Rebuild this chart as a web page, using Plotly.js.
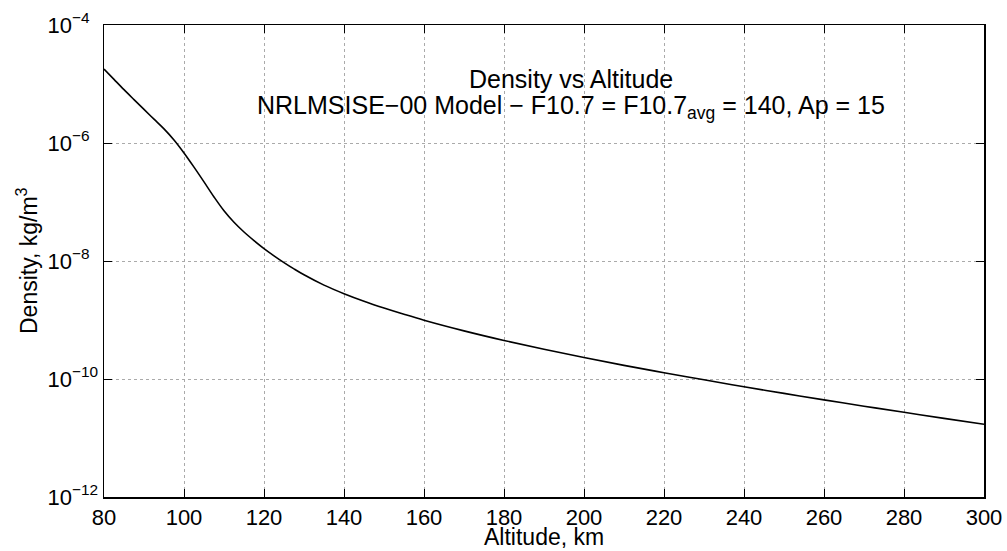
<!DOCTYPE html>
<html>
<head>
<meta charset="utf-8">
<script src="https://cdn.plot.ly/plotly-3.0.1.min.js"></script>
<style>
  html, body { margin: 0; padding: 0; background: #fff; }
  #chart { width: 1007px; height: 551px; }
</style>
</head>
<body>
<div id="chart"></div>
<script>
// Altitude (km)
const altitude = [80, 82.5, 85, 87.5, 90, 92.5, 95, 97.5, 100, 102.5, 105, 107.5, 110, 112.5,
  115, 117.5, 120, 122.5, 125, 127.5, 130, 135, 140, 145, 150, 155, 160, 170, 180, 190,
  200, 210, 220, 230, 240, 250, 260, 270, 280, 290, 300];
// Density (kg/m^3)
const density = [1.795e-5, 1.199e-5, 8.02e-6, 5.445e-6, 3.707e-6, 2.535e-6, 1.734e-6,
  1.125e-6, 6.78e-7, 3.90e-7, 2.193e-7, 1.219e-7, 7.10e-8, 4.53e-8,
  3.097e-8, 2.218e-8, 1.626e-8, 1.226e-8, 9.408e-9, 7.345e-9, 5.834e-9, 3.899e-9, 2.793e-9,
  2.082e-9, 1.598e-9, 1.250e-9, 9.91e-10, 6.546e-10, 4.498e-10, 3.184e-10,
  2.307e-10, 1.702e-10, 1.276e-10, 9.683e-11, 7.396e-11, 5.702e-11, 4.426e-11, 3.459e-11,
  2.723e-11, 2.153e-11, 1.710e-11];

const xTicks = [80, 100, 120, 140, 160, 180, 200, 220, 240, 260, 280, 300];
const yTickVals = [1e-12, 1e-10, 1e-8, 1e-6, 1e-4];
const FIG = '\u2007';
const yTickText = ['10<sup>−12</sup>', '10<sup>−10</sup>', '10<sup>−8' + FIG + '</sup>',
  '10<sup>−6' + FIG + '</sup>', '10<sup>−4' + FIG + '</sup>'];

const titleLine1 = 'Density vs Altitude';
const titleLine2 = 'NRLMSISE−00 Model − F10.7 = F10.7<sub>avg</sub> = 140, Ap = 15';
const xTitle = 'Altitude, km';
const yTitle = 'Density, kg/m<sup>3</sup>';

const FONT = 'Liberation Sans, Arial, Helvetica, sans-serif';
const TICK_SIZE = 22;
const LABEL_SIZE = 23;
const TITLE_SIZE = 25;

const trace = {
  x: altitude,
  y: density,
  type: 'scatter',
  mode: 'lines',
  line: { color: '#000', width: 1.6, shape: 'spline', smoothing: 1 },
  hoverinfo: 'x+y'
};

const axisCommon = {
  showline: true,
  linecolor: '#000',
  linewidth: 1.5,
  mirror: 'ticks',
  ticks: 'inside',
  ticklen: 8,
  tickwidth: 1,
  tickcolor: '#000',
  showgrid: true,
  gridcolor: '#aaa',
  griddash: 'dot',
  gridwidth: 1,
  zeroline: false,
  tickfont: { family: FONT, size: TICK_SIZE, color: '#000' }
};

const layout = {
  width: 1007,
  height: 551,
  margin: { l: 104, r: 23, t: 25, b: 54 },
  paper_bgcolor: '#fff',
  plot_bgcolor: '#fff',
  showlegend: false,
  font: { family: FONT, size: LABEL_SIZE, color: '#000' },
  xaxis: Object.assign({}, axisCommon, {
    range: [80, 300],
    tickvals: xTicks,
    ticktext: xTicks.map(String),
    ticklabelstandoff: 0
  }),
  yaxis: Object.assign({}, axisCommon, {
    type: 'log',
    range: [-12, -4],
    tickvals: yTickVals,
    ticktext: yTickText,
    ticklabelstandoff: 0
  }),
  annotations: [
    {
      text: titleLine1, xref: 'paper', yref: 'paper', x: 0.5307, y: 0.886,
      xanchor: 'center', yanchor: 'middle', showarrow: false,
      font: { family: FONT, size: TITLE_SIZE, color: '#000' }
    },
    {
      text: titleLine2, xref: 'paper', yref: 'paper', x: 0.5307, y: 0.827,
      xanchor: 'center', yanchor: 'middle', showarrow: false,
      font: { family: FONT, size: TITLE_SIZE, color: '#000' }
    },
    {
      text: xTitle, xref: 'paper', yref: 'paper', x: 0.5, y: -0.1142,
      xanchor: 'center', yanchor: 'bottom', showarrow: false, borderpad: 0,
      font: { family: FONT, size: LABEL_SIZE, color: '#000' }
    },
    {
      text: yTitle, xref: 'paper', yref: 'paper', x: -0.0875, y: 0.5,
      xanchor: 'center', yanchor: 'middle', showarrow: false, textangle: -90,
      font: { family: FONT, size: LABEL_SIZE, color: '#000' }
    }
  ]
};

Plotly.newPlot('chart', [trace], layout, { displayModeBar: false, staticPlot: true });
</script>
</body>
</html>
